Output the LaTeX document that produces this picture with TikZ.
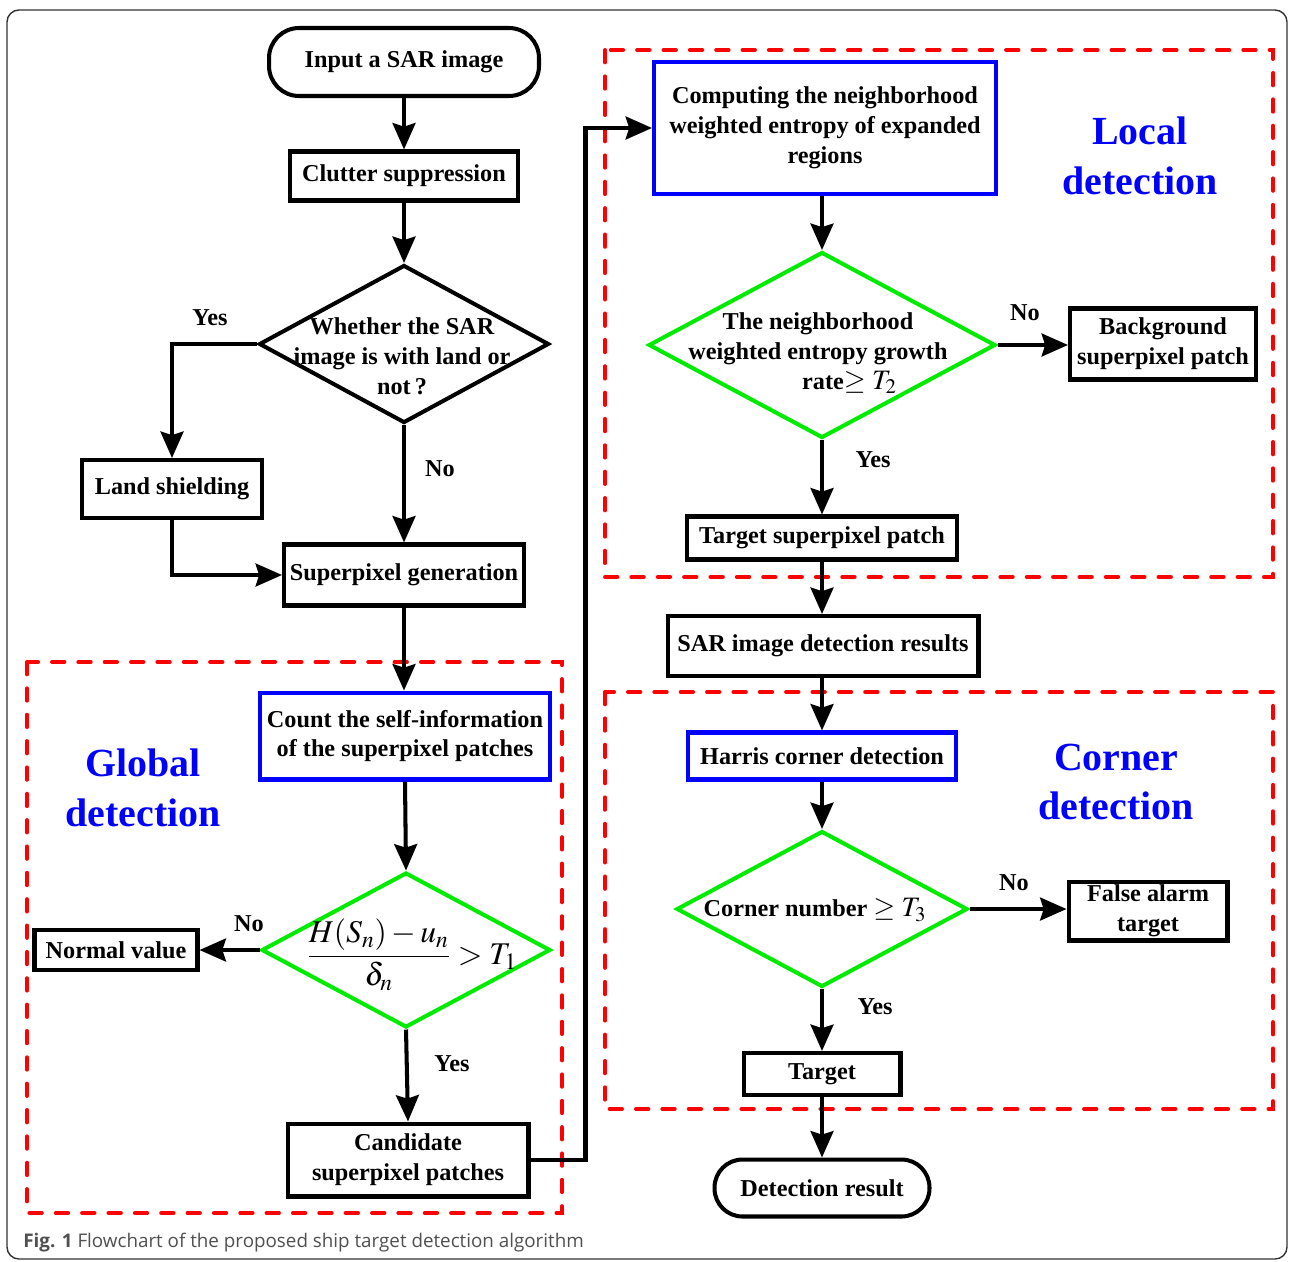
\documentclass[tikz,border=0pt]{standalone}
\usepackage{mathptmx}
\usepackage[no-math]{fontspec}
\setmainfont{Liberation Serif}
\newfontfamily\capfont{Open Sans}
\usetikzlibrary{shapes.geometric,arrows.meta}
\definecolor{dgreen}{RGB}{0,235,0}
\definecolor{rblue}{RGB}{0,0,255}
\definecolor{rred}{RGB}{255,0,0}
\definecolor{capgray}{RGB}{80,80,80}
\begin{document}
\begin{tikzpicture}[x=0.02cm,y=-0.02cm,
  ln/.style={line width=2.3pt},
  arr/.style={ln,-{Stealth[length=15pt,width=13pt,inset=2pt]}},
  tfont/.style={font={\fontsize{13.8}{17}\selectfont\bfseries}},
  box/.style={draw,ln,rectangle,inner sep=0pt,align=center,tfont},
  bbox/.style={box,draw=rblue},
  stad/.style={box,rounded corners=0.6cm},
  dia/.style={draw,ln,diamond,inner sep=0pt},
  gdia/.style={dia,draw=dgreen},
  txt/.style={inner sep=0pt,align=center,tfont},
  lab/.style={inner sep=0pt,tfont},
  big/.style={inner sep=0pt,align=center,text=rblue,font={\fontsize{22.7}{28.3}\selectfont\bfseries}},
  reddash/.style={draw=rred,line width=2.3pt,dash pattern=on 7pt off 8pt,line cap=round}
]
\useasboundingbox (0,0) rectangle (1290,1261);
\fill[white] (0,0) rectangle (1290,1261);
% outer frame
\draw[line width=0.8pt,black!80,rounded corners=0.24cm] (7,10) rectangle (1287,1259);

% dashed groups
\draw[reddash] (27,662) rectangle (562,1213);
\draw[reddash] (605,50) rectangle (1273,577);
\draw[reddash] (605,692) rectangle (1273,1109);

% left column
\node[stad,minimum width=5.4cm,minimum height=1.36cm] (input) at (404,62) {Input a SAR image};
\node[box,minimum width=4.56cm,minimum height=0.98cm] (clutter) at (404,176) {Clutter suppression};
\node[dia,minimum width=5.8cm,minimum height=3.16cm] (d1) at (404,344) {};
\node[txt] (d1t) at (402,356) {Whether the SAR\\image is with land or\\not\,?};
\node[box,minimum width=3.6cm,minimum height=1.16cm] (land) at (172,489) {Land shielding};
\node[box,minimum width=4.8cm,minimum height=1.22cm] (spg) at (404,575) {Superpixel generation};
\node[bbox,minimum width=5.8cm,minimum height=1.74cm] (count) at (405,736) {Count the self-information\\of the superpixel patches};
\node[gdia,minimum width=5.78cm,minimum height=3.1cm] (d2) at (406,950) {};
\node[inner sep=0pt,font={\fontsize{18}{21}\selectfont}] (d2t) at (412,955) {$\displaystyle\frac{H(S_n)-u_n}{\delta_n}>T_1$};
\node[box,minimum width=3.26cm,minimum height=0.8cm] (normal) at (116,950) {Normal value};
\node[box,minimum width=4.82cm,minimum height=1.46cm] (cand) at (408,1160) {Candidate\\superpixel patches};

% right column
\node[bbox,minimum width=6.84cm,minimum height=2.64cm] (comp) at (825,128) {Computing the neighborhood\\weighted entropy of expanded\\regions};
\node[gdia,minimum width=6.94cm,minimum height=3.72cm] (d3) at (822,345) {};
\node[txt] (d3t) at (818,353) {The neighborhood\\weighted entropy growth\\\hspace*{2.6em}rate{\fontsize{16}{17}\selectfont$\geq T_2$}};
\node[box,minimum width=3.72cm,minimum height=1.42cm] (bg) at (1163,344) {Background\\superpixel patch};
\node[box,minimum width=5.4cm,minimum height=0.86cm] (tsp) at (822,538) {Target superpixel patch};
\node[box,minimum width=6.22cm,minimum height=1.2cm] (res) at (823,646) {SAR image detection results};
\node[bbox,minimum width=5.36cm,minimum height=0.94cm] (harris) at (822,756) {Harris corner detection};
\node[gdia,minimum width=5.82cm,minimum height=3.12cm] (d4) at (822,909) {};
\node[txt] (d4t) at (815,910) {Corner number {\fontsize{16}{17}\selectfont$\geq T_3$}};
\node[box,minimum width=3.18cm,minimum height=1.18cm] (fa) at (1148,911) {False alarm\\target};
\node[box,minimum width=3.14cm,minimum height=0.84cm] (tgt) at (822,1074) {Target};
\node[stad,rounded corners=0.56cm,minimum width=4.3cm,minimum height=1.14cm] (det) at (822,1188) {Detection result};

% group labels
\node[big] (gl) at (143,788) {Global\\detection};
\node[big] (ll) at (1140,156) {Local\\detection};
\node[big] (cl) at (1116,782) {Corner\\detection};

% connectors
\draw[arr] (input) -- (clutter);
\draw[arr] (clutter) -- (d1);
\draw[arr] (d1.west) -| (land.north);
\draw[arr] (d1.south) -- (spg.north);
\draw[arr] (land.south) |- (spg.west);
\draw[arr] (spg.south) -- (spg.south |- count.north);
\draw[arr] (count.south) -- (d2.north);
\draw[arr] (d2.west) -- (normal.east);
\draw[arr] (d2.south) -- (cand.north);
\draw[arr] (cand.east) -- ++(55,0) |- (comp.west);
\draw[arr] (comp.south -| d3.north) -- (d3.north);
\draw[arr] (d3.east) -- (bg.west |- d3.east);
\draw[arr] (d3.south) -- (tsp.north);
\draw[arr] (tsp.south) -- (tsp.south |- res.north);
\draw[arr] (tsp.south |- res.south) -- (harris.north);
\draw[arr] (harris.south) -- (d4.north);
\draw[arr] (d4.east) -- (fa.west |- d4.east);
\draw[arr] (d4.south) -- (tgt.north);
\draw[arr] (tgt.south) -- (det.north);

% branch labels
\node[lab] (y1) at (210,318) {Yes};
\node[lab] (n1) at (440,469) {No};
\node[lab] (n2) at (249,924) {No};
\node[lab] (y2) at (452,1064) {Yes};
\node[lab] (n3) at (1025,313) {No};
\node[lab] (y3) at (873,460) {Yes};
\node[lab] (n4) at (1014,883) {No};
\node[lab] (y4) at (875,1007) {Yes};

% caption
\node[anchor=west,inner sep=0pt,text=capgray,font={\capfont\fontsize{10.7}{13}\selectfont}] (cap) at (23,1243) {\textbf{Fig. 1} Flowchart of the proposed ship target detection algorithm};
\end{tikzpicture}
\end{document}
